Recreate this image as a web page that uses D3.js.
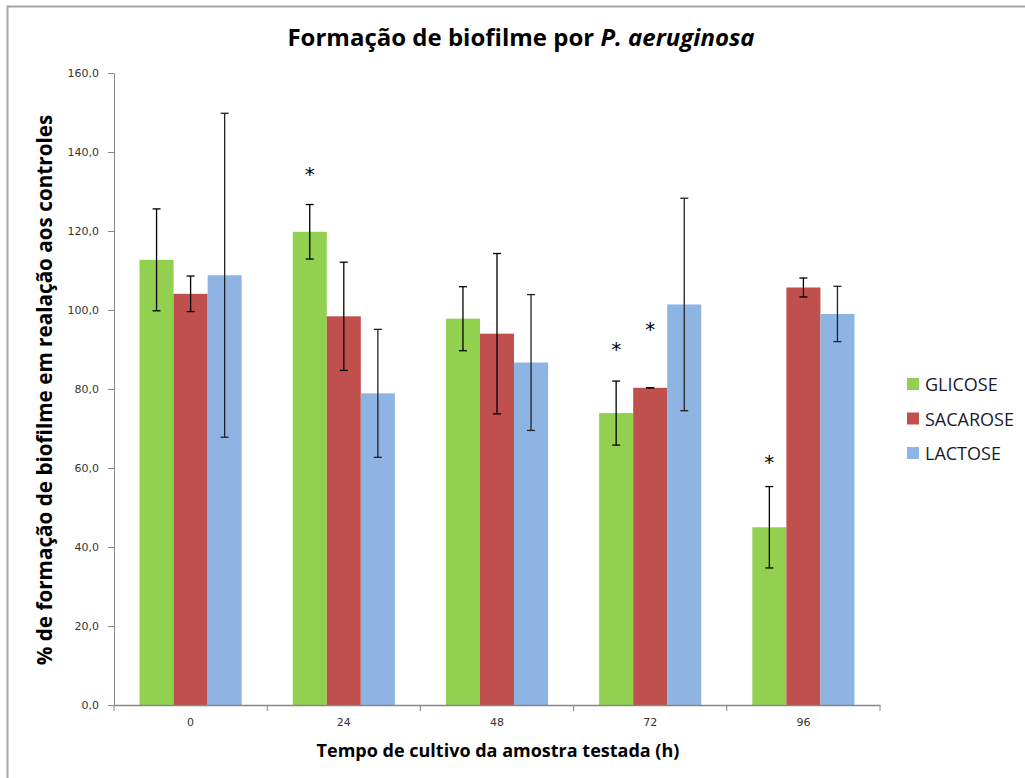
<!DOCTYPE html>
<html lang="pt">
<head>
<meta charset="UTF-8">
<title>Formação de biofilme por P. aeruginosa</title>
<script src="https://d3js.org/d3.v7.min.js"></script>
<style>
  body { margin: 0; background: #fff; }
  svg { display: block; }
</style>
</head>
<body>
<div id="chart"></div>
<script>
// data
const times = ["0", "24", "48", "72", "96"];
const seriesNames = ["GLICOSE", "SACAROSE", "LACTOSE"];
const colors = ["#92D050", "#C0504D", "#8EB4E3"];

const glicose = [112.7, 119.8, 97.8, 73.9, 45.0];
const sacarose = [104.1, 98.4, 94.0, 80.3, 105.7];
const lactose = [108.8, 78.9, 86.7, 101.4, 99.0];

const glicoseErr = [12.9, 6.9, 8.1, 8.1, 10.3];
const sacaroseErr = [4.5, 13.7, 20.3, 0, 2.4];
const lactoseErr = [41.0, 16.2, 17.2, 26.9, 7.0];

// asterisks: [time, series index, value where it sits]
const stars = [["24", 0, 135.0], ["72", 0, 90.6], ["72", 1, 95.8], ["96", 0, 62.0]];

const yTicks = [0, 20, 40, 60, 80, 100, 120, 140, 160];

const W = 1025, H = 778;
const margin = { top: 73, left: 114, right: 145, bottom: 73 };
const plotW = 880 - margin.left;
const plotH = 705 - margin.top;

const svg = d3.select("#chart").append("svg")
  .attr("width", W).attr("height", H);

// chart area frame
svg.append("path")
  .attr("d", "M7.5,778V6.5H1025")
  .attr("fill", "none").attr("stroke", "#a6a6a6").attr("stroke-width", 2);

const g = svg.append("g").attr("transform", `translate(${margin.left},${margin.top})`);

const x = d3.scaleBand().domain(times).range([0, plotW]);
const y = d3.scaleLinear().domain([0, 160]).range([plotH, 0]);
const barW = x.bandwidth() / 4.5;
const xs = d3.scaleBand().domain(seriesNames).range([0, barW * 3]);

const values = [glicose, sacarose, lactose];
const errs = [glicoseErr, sacaroseErr, lactoseErr];
const rows = [];
times.forEach((t, i) => {
  seriesNames.forEach((s, k) => {
    rows.push({ t, s, k, v: values[k][i], e: errs[k][i] });
  });
});

const groupX = t => x(t) + (x.bandwidth() - barW * 3) / 2;

// y axis
const yAxis = g.append("g")
  .call(d3.axisLeft(y).tickValues(yTicks).tickSize(6).tickSizeOuter(0)
    .tickFormat(d => d3.format(".1f")(d).replace(".", ",")));
yAxis.select(".domain").attr("stroke", "#868686");
yAxis.selectAll(".tick line").attr("stroke", "#868686");
yAxis.selectAll(".tick text")
  .attr("x", -15)
  .style("font-family", "'DejaVu Sans', Verdana, sans-serif")
  .style("font-size", "11px").attr("fill", "#333");

// bars
g.selectAll("rect.bar").data(rows).enter().append("rect")
  .attr("class", "bar")
  .attr("x", d => groupX(d.t) + xs(d.s))
  .attr("y", d => y(d.v))
  .attr("width", xs.bandwidth())
  .attr("height", d => plotH - y(d.v))
  .attr("fill", d => colors[d.k]);

// error bars
const eb = g.selectAll("g.err").data(rows).enter().append("g")
  .attr("class", "err")
  .attr("transform", d => `translate(${groupX(d.t) + xs(d.s) + xs.bandwidth() / 2},0)`)
  .attr("stroke", d => d.k === 2 ? "#222" : "#000")
  .attr("stroke-width", 1.3);
eb.append("line").attr("y1", d => y(d.v + d.e)).attr("y2", d => y(d.v - d.e));
eb.append("line").attr("x1", -4).attr("x2", 4)
  .attr("y1", d => y(d.v + d.e)).attr("y2", d => y(d.v + d.e));
eb.append("line").attr("x1", -4).attr("x2", 4)
  .attr("y1", d => y(d.v - d.e)).attr("y2", d => y(d.v - d.e));

// x axis
const xAxis = g.append("g").attr("transform", `translate(0,${plotH})`)
  .call(d3.axisBottom(x).tickSize(0).tickSizeOuter(0));
xAxis.select(".domain").attr("stroke", "#868686").attr("stroke-width", 1.5);
xAxis.selectAll(".tick text").attr("dy", "1.6em")
  .style("font-family", "'DejaVu Sans', Verdana, sans-serif")
  .style("font-size", "11px").attr("fill", "#333");
xAxis.selectAll("line.sep").data(times.concat(["end"])).enter().append("line")
  .attr("class", "sep")
  .attr("x1", (d, i) => i * x.step()).attr("x2", (d, i) => i * x.step())
  .attr("y1", 0).attr("y2", 6).attr("stroke", "#868686");

// asterisks
g.selectAll("text.star").data(stars).enter().append("text")
  .attr("class", "star")
  .attr("x", d => groupX(d[0]) + xs(seriesNames[d[1]]) + xs.bandwidth() / 2)
  .attr("y", d => y(d[2]) + 9)
  .attr("text-anchor", "middle")
  .style("font-family", "'DejaVu Sans', sans-serif")
  .style("font-size", "20px").attr("fill", "#000")
  .text("*");

// title
const title = svg.append("text")
  .attr("x", 521).attr("y", 46).attr("text-anchor", "middle")
  .style("font-family", "'Open Sans', sans-serif").style("font-weight", "bold")
  .style("font-size", "24px").attr("fill", "#000");
title.append("tspan").text("Formação de biofilme por ");
title.append("tspan").style("font-style", "italic").text("P. aeruginosa");

// axis titles
svg.append("text")
  .attr("transform", "translate(52,390) rotate(-90)")
  .attr("text-anchor", "middle")
  .style("font-family", "'Open Sans', sans-serif").style("font-weight", "bold")
  .style("font-size", "20.7px").attr("fill", "#000")
  .text("% de formação de biofilme em realação aos controles");

svg.append("text")
  .attr("x", 498).attr("y", 757).attr("text-anchor", "middle")
  .style("font-family", "'Open Sans', sans-serif").style("font-weight", "bold")
  .style("font-size", "18px").attr("fill", "#000")
  .text("Tempo de cultivo da amostra testada (h)");

// legend
const leg = svg.append("g").attr("transform", "translate(907,384)");
const li = leg.selectAll("g").data(seriesNames).enter().append("g")
  .attr("transform", (d, i) => `translate(0,${i * 34.5})`);
li.append("rect").attr("x", 0).attr("y", -6).attr("width", 12).attr("height", 12)
  .attr("fill", (d, i) => colors[i]);
li.append("text").attr("x", 18).attr("y", 7)
  .style("font-family", "'Open Sans', sans-serif")
  .style("font-size", "18px").attr("fill", "#1a1a2e")
  .text(d => d);
</script>
</body>
</html>
